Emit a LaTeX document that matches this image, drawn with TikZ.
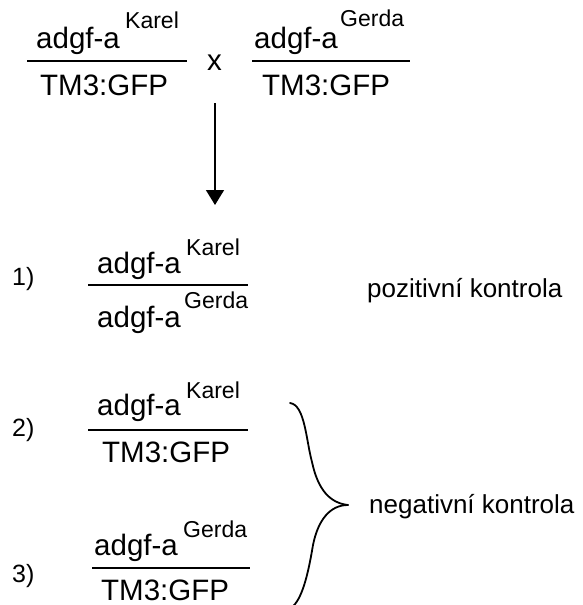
\documentclass[tikz,border=0pt]{standalone}
\usepackage{fontspec}
\setmainfont{Liberation Sans}
\usetikzlibrary{arrows.meta}
\begin{document}
\begin{tikzpicture}[x=1pt,y=-1pt,
  main/.style={inner sep=0pt,anchor=base west,font=\fontsize{29.5}{34}\selectfont},
  sup/.style={inner sep=0pt,anchor=base west,font=\fontsize{23}{27}\selectfont},
  lab/.style={inner sep=0pt,anchor=base west,font=\fontsize{25}{30}\selectfont},
  captxt/.style={inner sep=0pt,anchor=base west,font=\fontsize{26}{31}\selectfont},
  fracline/.style={line width=1.6pt},
  bracestyle/.style={line width=1.8pt,line cap=round}]
\useasboundingbox (0,0) rectangle (582,605);
\clip (0,0) rectangle (582,605);
% top cross
\node[main] (a1) at (36,48) {adgf-a};
\node[sup] (k1) at (125,28) {Karel};
\node[main] (t1) at (40,95) {TM3:GFP};
\coordinate (l1a) at (27,61); \coordinate (l1b) at (187,61);
\draw[fracline] (l1a) -- (l1b);
\node[main] (x) at (207,70) {x};
\node[main] (a2) at (254,48) {adgf-a};
\node[sup] (g2) at (340,27) {Gerda};
\node[main] (t2) at (262,95) {TM3:GFP};
\coordinate (l2a) at (252,61); \coordinate (l2b) at (410,61);
\draw[fracline] (l2a) -- (l2b);
% arrow
\coordinate (ar1) at (215,103); \coordinate (ar2) at (215,205);
\draw[line width=1.5pt,-{Triangle[length=15pt,width=18pt]}] (ar1) -- (ar2);
% row 1
\node[lab] (n1) at (12,285) {1)};
\node[main] (a3) at (97,273) {adgf-a};
\node[sup] (k3) at (186,255) {Karel};
\coordinate (l3a) at (88,285); \coordinate (l3b) at (248,285);
\draw[fracline] (l3a) -- (l3b);
\node[main] (b3) at (97,327) {adgf-a};
\node[sup] (g3) at (184,308) {Gerda};
\node[captxt] (pk) at (367,297) {pozitivní kontrola};
% row 2
\node[lab] (n2) at (12,436) {2)};
\node[main] (a4) at (97,415) {adgf-a};
\node[sup] (k4) at (186,398) {Karel};
\coordinate (l4a) at (88,430); \coordinate (l4b) at (248,430);
\draw[fracline] (l4a) -- (l4b);
\node[main] (t4) at (102,462) {TM3:GFP};
% row 3
\node[lab] (n3) at (12,582) {3)};
\node[main] (a5) at (94,555) {adgf-a};
\node[sup] (g5) at (183,537) {Gerda};
\coordinate (l5a) at (92,568); \coordinate (l5b) at (250,568);
\draw[fracline] (l5a) -- (l5b);
\node[main,text depth=0pt] (t5) at (101,600) {TM3:GFP};
% brace
\coordinate (bt) at (290,403);
\coordinate (bm) at (348,505);
\coordinate (bb) at (291,608);
\draw[bracestyle] (bt) .. controls (305,405) and (306,440) .. (312,462)
  .. controls (318,490) and (330,503) .. (bm);
\draw[bracestyle] (bm) .. controls (330,505) and (318,520) .. (313,545)
  .. controls (308,575) and (302,600) .. (bb);
\node[captxt] (nk) at (369,513) {negativní kontrola};
\end{tikzpicture}
\end{document}
